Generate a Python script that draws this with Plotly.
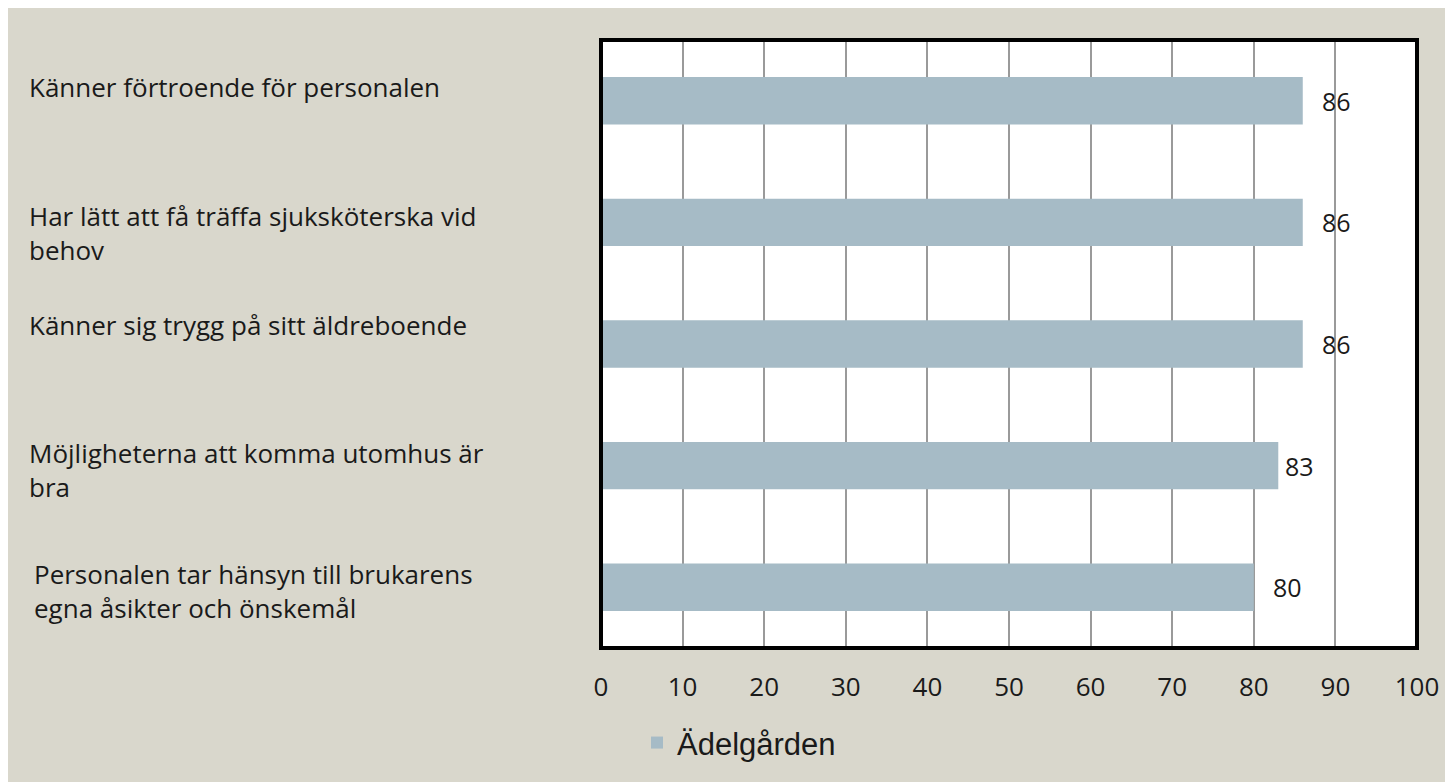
import plotly.graph_objects as go

categories = [
    "Känner förtroende för personalen",
    "Har lätt att få träffa sjuksköterska vid<br>behov",
    "Känner sig trygg på sitt äldreboende",
    "Möjligheterna att komma utomhus är<br>bra",
    "Personalen tar hänsyn till brukarens<br>egna åsikter och önskemål",
]
values = [86, 86, 86, 83, 80]
series_name = "Ädelgården"
x_ticks = [0, 10, 20, 30, 40, 50, 60, 70, 80, 90, 100]

# layout-only tweaks (page pixel coordinates)
label_center_shift = [13.5, -11, 19.5, -4, -4]
label_x_px = [27, 27, 27, 27, 32]
value_xshift = [17, 17, 17, 5, 17]

OFF = 8  # browser body margin
PL, PR, PT, PB = 601, 1417, 40, 655  # plot area in page pixels
W, H = 1453 - OFF, 782 - OFF
L, T = PL - OFF, PT - OFF
R = W + OFF - PR
B = H + OFF - PB
pw = PR - PL
ph = PB - PT

BG = "#D9D7CC"
BAR = "#A6BBC6"
FONT = "Open Sans"
TXT = "#1a1a1a"

ypos = list(range(len(categories)))

fig = go.Figure()
fig.add_trace(go.Bar(
    x=values, y=ypos, orientation="h", name=series_name,
    marker=dict(color=BAR, line=dict(width=0)), width=0.39,
    showlegend=True, hoverinfo="x",
))

annotations = []
for i, cat in enumerate(categories):
    annotations.append(dict(
        x=(label_x_px[i] - PL) / pw, xref="paper", y=ypos[i], yref="y",
        text=cat, showarrow=False, xanchor="left", yanchor="middle", align="left",
        yshift=label_center_shift[i], font=dict(family=FONT, size=26, color=TXT),
    ))
    annotations.append(dict(
        x=values[i], xref="x", y=ypos[i], yref="y", text=str(values[i]),
        showarrow=False, xanchor="left", yanchor="middle", xshift=value_xshift[i],
        font=dict(family=FONT, size=25, color=TXT),
    ))

shapes = [
    dict(type="rect", xref="paper", yref="paper", x0=0, x1=1, y0=0, y1=1,
         line=dict(color="black", width=4), fillcolor="rgba(0,0,0,0)", layer="above"),
]

fig.update_layout(
    width=W, height=H,
    margin=dict(l=L, r=R, t=T, b=B, pad=0),
    paper_bgcolor=BG, plot_bgcolor="white",
    font=dict(family=FONT, color=TXT),
    xaxis=dict(range=[0, 100], tickvals=x_ticks, ticktext=[str(t) for t in x_ticks],
               showgrid=True, gridcolor="#9A9A9A", gridwidth=1.5, zeroline=False,
               showline=False, ticks="", ticklabelstandoff=21,
               tickfont=dict(family=FONT, size=26, color=TXT), fixedrange=True),
    yaxis=dict(range=[4.5, -0.5], showticklabels=False, showgrid=False, zeroline=False,
               showline=False, ticks="", fixedrange=True),
    showlegend=True,
    legend=dict(orientation="h", x=(637 - PL) / pw, y=(PB - 751) / ph,
                xanchor="left", yanchor="middle", bgcolor="rgba(0,0,0,0)",
                font=dict(family="Liberation Sans", size=31, color=TXT),
                itemwidth=30),
    annotations=annotations,
    shapes=shapes,
    bargap=0.6,
)

fig.write_html("out.html")
